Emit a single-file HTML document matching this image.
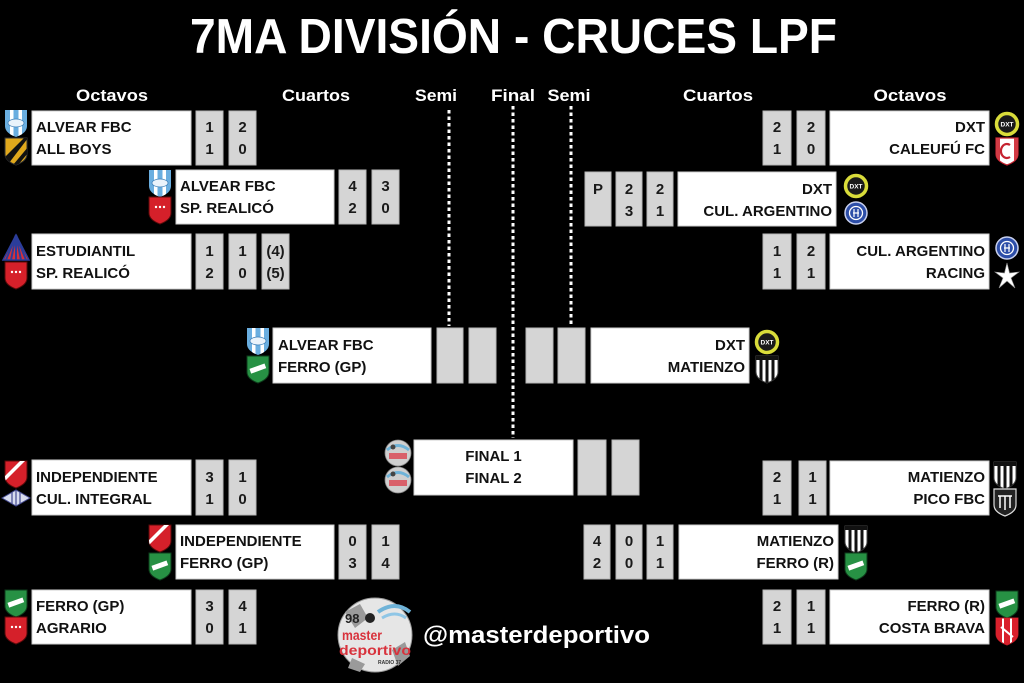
<!DOCTYPE html>
<html><head><meta charset="utf-8"><style>
html,body{margin:0;padding:0;background:#000;}
svg{display:block;}
text{font-family:"Liberation Sans",Arial,sans-serif;font-weight:bold;}
.tm{font-size:15px;fill:#111;}
.sc{font-size:15px;fill:#1a1a1a;text-anchor:middle;}
.hd{font-size:16.5px;fill:#fff;text-anchor:middle;}
.tb{fill:#fff;stroke:#cfcfcf;stroke-width:1;}
.sb{fill:#d5d5d5;stroke:#b8b8b8;stroke-width:1;}
</style></head><body>
<svg width="1024" height="683" viewBox="0 0 1024 683" xmlns="http://www.w3.org/2000/svg">
<defs>
  <path id="sh" d="M-11,-13 L11,-13 L11,3 Q11,10 0,14 Q-11,10 -11,3 Z"/>
  <clipPath id="shc"><path d="M-11,-13 L11,-13 L11,3 Q11,10 0,14 Q-11,10 -11,3 Z"/></clipPath>
  <g id="alv"><use href="#sh" fill="#6aaee0"/><g clip-path="url(#shc)"><rect x="-6" y="-13" width="3.5" height="28" fill="#fff"/><rect x="2.5" y="-13" width="3.5" height="28" fill="#fff"/><ellipse cx="0" cy="0" rx="8" ry="4" fill="#eaf3fb" stroke="#3d7fb8" stroke-width="0.8"/></g></g>
  <g id="allb"><use href="#sh" fill="#e0a81c" stroke="#333" stroke-width="1"/><g clip-path="url(#shc)"><path d="M-11,6 L8,-13 L12,-13 L-7,12 Z" fill="#111"/><path d="M-3,14 L12,-4 L12,2 L2,14 Z" fill="#111"/></g></g>
  <g id="red"><use href="#sh" fill="#d5202a" stroke="#5a0a0a" stroke-width="1"/><circle cx="-4" cy="-3" r="1.2" fill="#fff"/><circle cx="0" cy="-3" r="1.2" fill="#fff"/><circle cx="4" cy="-3" r="1.2" fill="#fff"/></g>
  <g id="indep"><use href="#sh" fill="#d5202a" stroke="#5a0a0a" stroke-width="1"/><g clip-path="url(#shc)"><path d="M-11,2 L4,-13 L9,-13 L-11,7 Z" fill="#fff"/></g></g>
  <g id="grn"><use href="#sh" fill="#279144" stroke="#0e3d1b" stroke-width="1"/><rect x="-8" y="-3" width="16" height="5" fill="#fff" transform="rotate(-20)"/></g>
  <g id="est"><path d="M0,-13 L13,12 L-13,12 Z" fill="#d6303a"/><path d="M0,-13 L-5,12 M0,-13 L0,12 M0,-13 L5,12 M0,-13 L-10,12 M0,-13 L10,12" stroke="#2b3d9a" stroke-width="2"/><path d="M0,-13 L13,12 L-13,12 Z" fill="none" stroke="#2b3d9a" stroke-width="1.5"/></g>
  <g id="culi"><path d="M-14,0 L0,-8 L14,0 L0,8 Z" fill="#d8dcee" stroke="#444a90" stroke-width="1"/><path d="M-4,-6 V6 M0,-8 V8 M4,-6 V6" stroke="#444a90" stroke-width="1.2"/></g>
  <g id="dxt"><circle r="10.5" fill="#1a1a1a" stroke="#d9dc3a" stroke-width="3.5"/><text x="0" y="2.5" font-size="6.5" fill="#fff" text-anchor="middle">DXT</text></g>
  <g id="cal"><use href="#sh" fill="#fff" stroke="#c52330" stroke-width="1.2"/><g clip-path="url(#shc)"><rect x="-11" y="-13" width="4" height="28" fill="#d23a44"/><rect x="7" y="-13" width="4" height="28" fill="#d23a44"/></g><path d="M3,-6 A6,7 0 1 0 3,6" fill="none" stroke="#c52330" stroke-width="2.2"/></g>
  <g id="cula"><circle r="11" fill="#2d4ea8" stroke="#c8d0ee" stroke-width="1.5"/><circle r="6.5" fill="none" stroke="#fff" stroke-width="1.3"/><path d="M-2,-4 V4 M2,-4 V4 M-3,0 H3" stroke="#fff" stroke-width="1.2"/></g>
  <g id="star"><path d="M0,-13 L2.5,-3 L12,-4 L4,2 L8,12 L0,5 L-8,12 L-4,2 L-12,-4 L-2.5,-3 Z" fill="#fff" stroke="#999" stroke-width="0.6"/></g>
  <g id="mat"><use href="#sh" fill="#fff" stroke="#444" stroke-width="1"/><g clip-path="url(#shc)"><rect x="-7.5" y="-9" width="3" height="24" fill="#111"/><rect x="-1.5" y="-9" width="3" height="24" fill="#111"/><rect x="4.5" y="-9" width="3" height="24" fill="#111"/><rect x="-11" y="-13" width="22" height="4" fill="#111"/></g></g>
  <g id="pico"><use href="#sh" fill="#222" stroke="#ddd" stroke-width="1.2"/><path d="M-5,-6 V6 M0,-6 V8 M5,-6 V6 M-7,-6 H7" stroke="#fff" stroke-width="1.5"/></g>
  <g id="cb"><use href="#sh" fill="#fff" stroke="#aa1a22" stroke-width="1"/><g clip-path="url(#shc)"><rect x="-11" y="-13" width="6" height="28" fill="#d9202c"/><rect x="5" y="-13" width="6" height="28" fill="#d9202c"/><rect x="-3" y="-13" width="6" height="28" fill="#d9202c"/></g><path d="M-6,-4 L6,6" stroke="#fff" stroke-width="2"/></g>
  <g id="fin"><circle r="13" fill="#cfcfcf" stroke="#888" stroke-width="0.8"/><path d="M-11,-3 Q0,-12 11,-3" fill="none" stroke="#6fb3d8" stroke-width="3"/><rect x="-9" y="0" width="18" height="6" fill="#d9606a"/><circle cx="-5" cy="-6" r="2.5" fill="#444"/></g>
</defs>

<rect width="1024" height="683" fill="#000"/>

<!-- Title -->
<text x="190" y="53" font-size="49" fill="#fff" textLength="647" lengthAdjust="spacingAndGlyphs">7MA DIVISIÓN - CRUCES LPF</text>

<!-- Headers -->
<text class="hd" x="112" y="101" textLength="72" lengthAdjust="spacingAndGlyphs">Octavos</text>
<text class="hd" x="316" y="101" textLength="68" lengthAdjust="spacingAndGlyphs">Cuartos</text>
<text class="hd" x="436" y="101" textLength="42" lengthAdjust="spacingAndGlyphs">Semi</text>
<text class="hd" x="513" y="101" textLength="44" lengthAdjust="spacingAndGlyphs">Final</text>
<text class="hd" x="569" y="101" textLength="43" lengthAdjust="spacingAndGlyphs">Semi</text>
<text class="hd" x="718" y="101" textLength="70" lengthAdjust="spacingAndGlyphs">Cuartos</text>
<text class="hd" x="910" y="101" textLength="73" lengthAdjust="spacingAndGlyphs">Octavos</text>

<!-- Dotted lines -->
<line x1="449" y1="110" x2="449" y2="326" stroke="#fff" stroke-width="3" stroke-dasharray="3.5 3"/>
<line x1="513" y1="106" x2="513" y2="438" stroke="#fff" stroke-width="3" stroke-dasharray="3.5 3"/>
<line x1="571" y1="106" x2="571" y2="326" stroke="#fff" stroke-width="3" stroke-dasharray="3.5 3"/>

<!-- ===== LEFT ===== -->
<!-- O1 -->
<rect class="tb" x="32" y="111" width="159" height="54"/>
<rect class="sb" x="196" y="111" width="27" height="54"/>
<rect class="sb" x="229" y="111" width="27" height="54"/>
<text class="tm" x="36" y="132">ALVEAR FBC</text><text class="tm" x="36" y="154">ALL BOYS</text>
<text class="sc" x="209.5" y="132">1</text><text class="sc" x="209.5" y="154">1</text>
<text class="sc" x="242.5" y="132">2</text><text class="sc" x="242.5" y="154">0</text>
<use href="#alv" x="16" y="123"/><use href="#allb" x="16" y="151"/>

<!-- C1 -->
<rect class="tb" x="176" y="170" width="158" height="54"/>
<rect class="sb" x="339" y="170" width="27" height="54"/>
<rect class="sb" x="372" y="170" width="27" height="54"/>
<text class="tm" x="180" y="191">ALVEAR FBC</text><text class="tm" x="180" y="213">SP. REALICÓ</text>
<text class="sc" x="352.5" y="191">4</text><text class="sc" x="352.5" y="213">2</text>
<text class="sc" x="385.5" y="191">3</text><text class="sc" x="385.5" y="213">0</text>
<use href="#alv" x="160" y="183"/><use href="#red" x="160" y="210"/>

<!-- O2 -->
<rect class="tb" x="32" y="234" width="159" height="55"/>
<rect class="sb" x="196" y="234" width="27" height="55"/>
<rect class="sb" x="229" y="234" width="27" height="55"/>
<rect class="sb" x="262" y="234" width="27" height="55"/>
<text class="tm" x="36" y="256">ESTUDIANTIL</text><text class="tm" x="36" y="278">SP. REALICÓ</text>
<text class="sc" x="209.5" y="256">1</text><text class="sc" x="209.5" y="278">2</text>
<text class="sc" x="242.5" y="256">1</text><text class="sc" x="242.5" y="278">0</text>
<text class="sc" x="275.5" y="256">(4)</text><text class="sc" x="275.5" y="278">(5)</text>
<use href="#est" x="16" y="248"/><use href="#red" x="16" y="275"/>

<!-- S1 -->
<rect class="tb" x="273" y="328" width="158" height="55"/>
<rect class="sb" x="437" y="328" width="26" height="55"/>
<rect class="sb" x="469" y="328" width="27" height="55"/>
<text class="tm" x="278" y="350">ALVEAR FBC</text><text class="tm" x="278" y="372">FERRO (GP)</text>
<use href="#alv" x="258" y="341"/><use href="#grn" x="258" y="369"/>

<!-- O3 -->
<rect class="tb" x="32" y="460" width="159" height="55"/>
<rect class="sb" x="196" y="460" width="27" height="55"/>
<rect class="sb" x="229" y="460" width="27" height="55"/>
<text class="tm" x="36" y="482">INDEPENDIENTE</text><text class="tm" x="36" y="504">CUL. INTEGRAL</text>
<text class="sc" x="209.5" y="482">3</text><text class="sc" x="209.5" y="504">1</text>
<text class="sc" x="242.5" y="482">1</text><text class="sc" x="242.5" y="504">0</text>
<use href="#indep" x="16" y="474"/><use href="#culi" x="16" y="498"/>

<!-- C2 -->
<rect class="tb" x="176" y="525" width="158" height="54"/>
<rect class="sb" x="339" y="525" width="27" height="54"/>
<rect class="sb" x="372" y="525" width="27" height="54"/>
<text class="tm" x="180" y="546">INDEPENDIENTE</text><text class="tm" x="180" y="568">FERRO (GP)</text>
<text class="sc" x="352.5" y="546">0</text><text class="sc" x="352.5" y="568">3</text>
<text class="sc" x="385.5" y="546">1</text><text class="sc" x="385.5" y="568">4</text>
<use href="#indep" x="160" y="538"/><use href="#grn" x="160" y="566"/>

<!-- O4 -->
<rect class="tb" x="32" y="590" width="159" height="54"/>
<rect class="sb" x="196" y="590" width="27" height="54"/>
<rect class="sb" x="229" y="590" width="27" height="54"/>
<text class="tm" x="36" y="611">FERRO (GP)</text><text class="tm" x="36" y="633">AGRARIO</text>
<text class="sc" x="209.5" y="611">3</text><text class="sc" x="209.5" y="633">0</text>
<text class="sc" x="242.5" y="611">4</text><text class="sc" x="242.5" y="633">1</text>
<use href="#grn" x="16" y="603"/><use href="#red" x="16" y="630"/>

<!-- ===== RIGHT ===== -->
<!-- O1 -->
<rect class="tb" x="830" y="111" width="159" height="54"/>
<rect class="sb" x="763" y="111" width="28" height="54"/>
<rect class="sb" x="797" y="111" width="28" height="54"/>
<text class="tm" x="985" y="132" text-anchor="end">DXT</text><text class="tm" x="985" y="154" text-anchor="end">CALEUFÚ FC</text>
<text class="sc" x="777" y="132">2</text><text class="sc" x="777" y="154">1</text>
<text class="sc" x="811" y="132">2</text><text class="sc" x="811" y="154">0</text>
<use href="#dxt" x="1007" y="124"/><use href="#cal" x="1007" y="151"/>

<!-- C1 -->
<rect class="tb" x="678" y="172" width="158" height="54"/>
<rect class="sb" x="585" y="172" width="26" height="54"/>
<rect class="sb" x="616" y="172" width="26" height="54"/>
<rect class="sb" x="647" y="172" width="26" height="54"/>
<text class="tm" x="832" y="194" text-anchor="end">DXT</text><text class="tm" x="832" y="216" text-anchor="end">CUL. ARGENTINO</text>
<text class="sc" x="598" y="194">P</text>
<text class="sc" x="629" y="194">2</text><text class="sc" x="629" y="216">3</text>
<text class="sc" x="660" y="194">2</text><text class="sc" x="660" y="216">1</text>
<use href="#dxt" x="856" y="186"/><use href="#cula" x="856" y="213"/>

<!-- O2 -->
<rect class="tb" x="830" y="234" width="159" height="55"/>
<rect class="sb" x="763" y="234" width="28" height="55"/>
<rect class="sb" x="797" y="234" width="28" height="55"/>
<text class="tm" x="985" y="256" text-anchor="end">CUL. ARGENTINO</text><text class="tm" x="985" y="278" text-anchor="end">RACING</text>
<text class="sc" x="777" y="256">1</text><text class="sc" x="777" y="278">1</text>
<text class="sc" x="811" y="256">2</text><text class="sc" x="811" y="278">1</text>
<use href="#cula" x="1007" y="248"/><use href="#star" x="1007" y="276"/>

<!-- S2 -->
<rect class="tb" x="591" y="328" width="158" height="55"/>
<rect class="sb" x="526" y="328" width="27" height="55"/>
<rect class="sb" x="558" y="328" width="27" height="55"/>
<text class="tm" x="745" y="350" text-anchor="end">DXT</text><text class="tm" x="745" y="372" text-anchor="end">MATIENZO</text>
<use href="#dxt" x="767" y="342"/><use href="#mat" x="767" y="369"/>

<!-- O3 -->
<rect class="tb" x="830" y="461" width="159" height="54"/>
<rect class="sb" x="763" y="461" width="28" height="54"/>
<rect class="sb" x="799" y="461" width="27" height="54"/>
<text class="tm" x="985" y="482" text-anchor="end">MATIENZO</text><text class="tm" x="985" y="504" text-anchor="end">PICO FBC</text>
<text class="sc" x="777" y="482">2</text><text class="sc" x="777" y="504">1</text>
<text class="sc" x="812.5" y="482">1</text><text class="sc" x="812.5" y="504">1</text>
<use href="#mat" x="1005" y="475"/><use href="#pico" x="1005" y="502"/>

<!-- C2 -->
<rect class="tb" x="679" y="525" width="159" height="54"/>
<rect class="sb" x="584" y="525" width="26" height="54"/>
<rect class="sb" x="616" y="525" width="26" height="54"/>
<rect class="sb" x="647" y="525" width="26" height="54"/>
<text class="tm" x="834" y="546" text-anchor="end">MATIENZO</text><text class="tm" x="834" y="568" text-anchor="end">FERRO (R)</text>
<text class="sc" x="597" y="546">4</text><text class="sc" x="597" y="568">2</text>
<text class="sc" x="629" y="546">0</text><text class="sc" x="629" y="568">0</text>
<text class="sc" x="660" y="546">1</text><text class="sc" x="660" y="568">1</text>
<use href="#mat" x="856" y="539"/><use href="#grn" x="856" y="566"/>

<!-- O4 -->
<rect class="tb" x="830" y="590" width="159" height="54"/>
<rect class="sb" x="763" y="590" width="28" height="54"/>
<rect class="sb" x="797" y="590" width="28" height="54"/>
<text class="tm" x="985" y="611" text-anchor="end">FERRO (R)</text><text class="tm" x="985" y="633" text-anchor="end">COSTA BRAVA</text>
<text class="sc" x="777" y="611">2</text><text class="sc" x="777" y="633">1</text>
<text class="sc" x="811" y="611">1</text><text class="sc" x="811" y="633">1</text>
<use href="#grn" x="1007" y="604"/><use href="#cb" x="1007" y="631"/>

<!-- FINAL -->
<rect class="tb" x="414" y="440" width="159" height="55"/>
<rect class="sb" x="578" y="440" width="28" height="55"/>
<rect class="sb" x="612" y="440" width="27" height="55"/>
<text class="tm" x="493.5" y="461" text-anchor="middle">FINAL 1</text>
<text class="tm" x="493.5" y="483" text-anchor="middle">FINAL 2</text>
<use href="#fin" x="398" y="453"/><use href="#fin" x="398" y="480"/>

<!-- Footer logo -->
<circle cx="375" cy="635" r="37" fill="#e6e6e6" stroke="#999" stroke-width="1"/>
<path d="M345,612 L360,604 L368,618 L355,628 Z" fill="#9a9a9a"/>
<path d="M392,650 L405,642 L410,656 L398,666 Z" fill="#9a9a9a"/>
<path d="M352,658 L365,664 L360,672 L348,668 Z" fill="#9a9a9a"/>
<path d="M378,612 Q395,600 410,612" fill="none" stroke="#6fb3d8" stroke-width="4"/>
<path d="M382,618 Q395,610 406,618" fill="none" stroke="#8fc6e6" stroke-width="3"/>
<text x="345" y="623" font-size="13" fill="#222" font-weight="normal">98</text>
<circle cx="370" cy="618" r="5" fill="#222"/>
<text x="342" y="640" font-size="14" fill="#d8323c" font-weight="normal" textLength="40" lengthAdjust="spacingAndGlyphs">master</text>
<text x="339" y="655" font-size="14" fill="#d8323c" font-weight="normal" textLength="72" lengthAdjust="spacingAndGlyphs">deportivo</text>
<text x="378" y="664" font-size="5" fill="#333">RADIO 37</text>

<text x="423" y="643" font-size="24" fill="#fff" textLength="227" lengthAdjust="spacingAndGlyphs">@masterdeportivo</text>
</svg>
</body></html>
